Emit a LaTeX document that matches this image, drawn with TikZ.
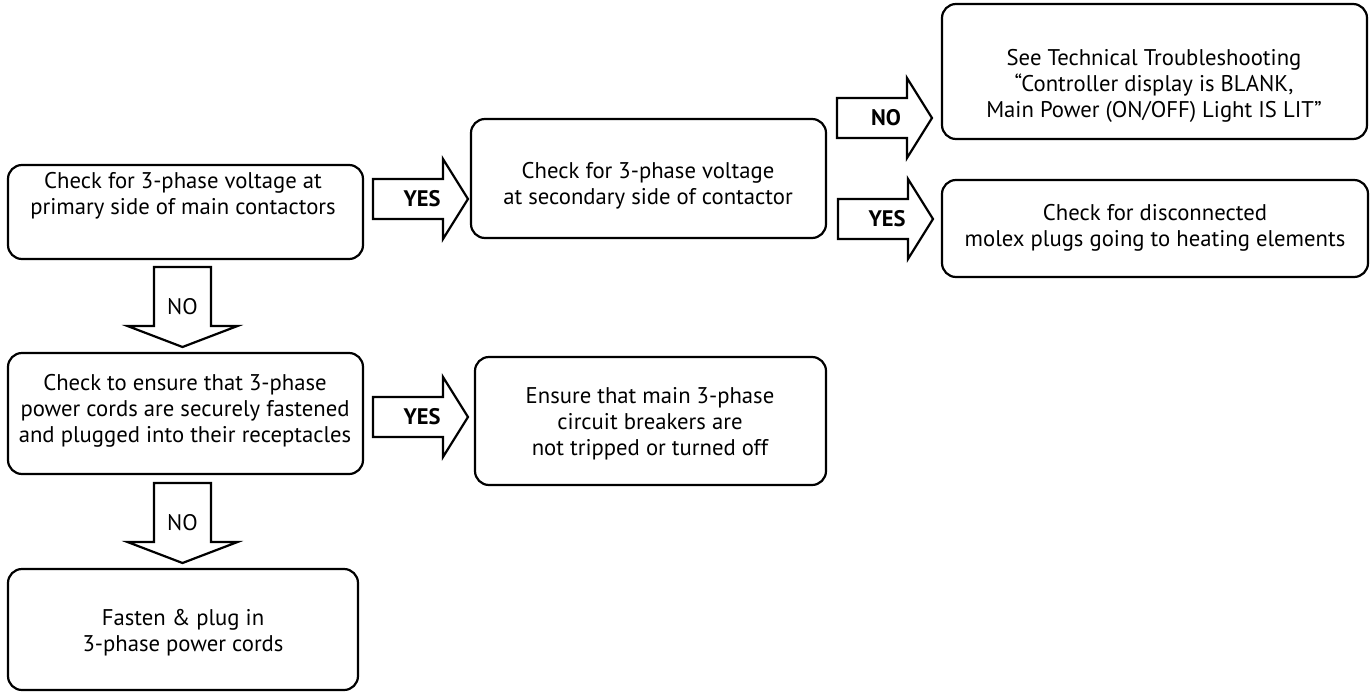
\documentclass[tikz,border=0pt]{standalone}
\usepackage{fontspec}
\setmainfont{PT Sans}
\usetikzlibrary{calc}
\tikzset{
  box/.style={draw, line width=2.2pt, rounded corners=14pt, inner sep=0pt},
  txt/.style={align=center, inner sep=0pt, font=\fontsize{22.7}{26}\selectfont},
  blk/.style={draw, line width=2.2pt, line join=miter, fill=white},
  lblb/.style={inner sep=0pt, font=\fontsize{22.5}{25}\selectfont\bfseries},
  lbln/.style={inner sep=0pt, font=\fontsize{22.5}{25}\selectfont},
}
\newcommand\RBlock[4]{% name, x0, cy, label
  \draw[blk] (#2,#3-20) -- (#2+70,#3-20) -- (#2+70,#3-40) -- (#2+95,#3) -- (#2+70,#3+40) -- (#2+70,#3+20) -- (#2,#3+20) -- cycle;
  \node[lblb] (#1) at (#2+49,#3) {#4};}
\newcommand\DBlock[4]{% name, cx, y0, label
  \draw[blk] (#2-28.5,#3) -- (#2+28.5,#3) -- (#2+28.5,#3+59) -- (#2+55,#3+59) -- (#2,#3+80) -- (#2-55,#3+59) -- (#2-28.5,#3+59) -- cycle;
  \node[lbln] (#1) at (#2,#3+40) {#4};}
\begin{document}
\begin{tikzpicture}[x=1pt,y=-1pt]
\useasboundingbox (0,0) rectangle (1370,696);
% boxes
\node[box, minimum width=355pt, minimum height=94pt] (A) at (185.5,212) {};
\node[box, minimum width=355pt, minimum height=119pt] (B) at (648.5,178.5) {};
\node[box, minimum width=425pt, minimum height=135pt] (C) at (1154.5,71.5) {};
\node[box, minimum width=426pt, minimum height=97pt] (D) at (1155,228.5) {};
\node[box, minimum width=355pt, minimum height=121pt] (E) at (185.5,413.5) {};
\node[box, minimum width=350pt, minimum height=121pt] (F) at (183,629.5) {};
\node[box, minimum width=351pt, minimum height=128pt] (G) at (650.5,421) {};
% texts
\node[txt] (tA) at (183,196) {Check for 3-phase voltage at\\primary side of main contactors};
\node[txt] (tB) at (648,186) {Check for 3-phase voltage\\at secondary side of contactor};
\node[txt] (tC) at (1154,86) {See Technical Troubleshooting\\“Controller display is BLANK,\\Main Power (ON/OFF) Light IS LIT”};
\node[txt] (tD) at (1155,228) {Check for disconnected\\molex plugs going to heating elements};
\node[txt] (tE) at (185,411) {Check to ensure that 3-phase\\power cords are securely fastened\\and plugged into their receptacles};
\node[txt] (tF) at (183,633) {Fasten \& plug in\\3-phase power cords};
\node[txt] (tG) at (650,424) {Ensure that main 3-phase\\circuit breakers are\\not tripped or turned off};
% block arrows
\RBlock{yAB}{373}{199}{YES}
\RBlock{yEG}{373}{417}{YES}
\RBlock{nBC}{837}{118}{NO}
\RBlock{yBD}{838}{219}{YES}
\DBlock{nAE}{182.5}{267}{NO}
\DBlock{nEF}{182.5}{483}{NO}
\end{tikzpicture}
\end{document}
